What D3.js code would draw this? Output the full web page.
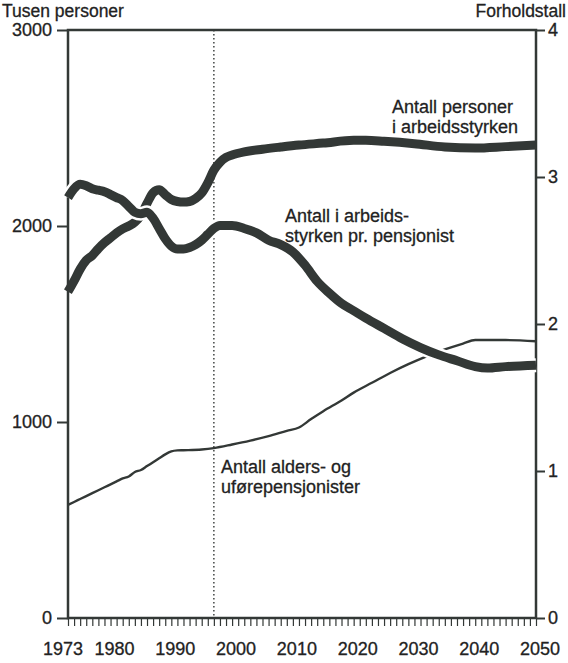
<!DOCTYPE html>
<html><head><meta charset="utf-8">
<script src="https://cdn.jsdelivr.net/npm/d3@7"></script>
<style>body{margin:0;background:#fff}svg text{font-family:"Liberation Sans",Arial,sans-serif;fill:#222;stroke:#222;stroke-width:0.3}</style>
</head><body><svg id="c" width="568" height="663"></svg>
<script>
// Antall personer i arbeidsstyrken (tusen)
const laborYears = [1973,1974,1975,1976,1977,1978,1979,1980,1981,1982,1983,1984,1985,1986,1987,1988,1989,1990,1991,1992,1993,1994,1995,1996,1997,1998,1999,2000,2002,2005,2008,2011,2015,2020,2022,2025,2030,2035,2040,2045,2050];
const laborValues = [1665,1720,1780,1825,1850,1885,1915,1940,1965,1985,2000,2020,2055,2115,2170,2185,2160,2135,2125,2122,2125,2140,2168,2220,2285,2325,2350,2362,2378,2392,2403,2413,2423,2437,2437,2432,2420,2403,2398,2405,2413];
// Antall i arbeidsstyrken pr. pensjonist (forholdstall)
const ratioYears = [1973,1974,1975,1976,1977,1978,1979,1980,1981,1982,1983,1984,1985,1986,1987,1988,1989,1990,1991,1992,1993,1994,1995,1996,1997,1998,2000,2002,2004,2006,2008,2010,2012,2014,2016,2018,2020,2022,2025,2028,2031,2034,2037,2040,2042,2045,2050];
const ratioValues = [2.86,2.92,2.95,2.94,2.92,2.91,2.90,2.88,2.86,2.84,2.80,2.76,2.75,2.76,2.72,2.65,2.58,2.53,2.51,2.51,2.52,2.54,2.57,2.61,2.65,2.67,2.67,2.65,2.62,2.57,2.54,2.49,2.40,2.29,2.21,2.14,2.09,2.04,1.97,1.90,1.84,1.79,1.75,1.71,1.70,1.71,1.72];
// Antall alders- og uførepensjonister (tusen)
const pensYears = [1973,1974,1975,1976,1977,1978,1979,1980,1981,1982,1983,1984,1985,1986,1987,1988,1989,1990,1991,1992,1995,1997,2000,2003,2006,2009,2011,2013,2015,2018,2020,2023,2026,2029,2032,2035,2038,2040,2045,2050];
const pensValues = [577,592,607,622,637,652,667,682,697,712,722,745,755,775,795,815,835,850,855,856,860,867,885,905,928,955,972,1015,1055,1110,1150,1200,1250,1295,1335,1370,1400,1418,1418,1412];
const xTickLabels = [1973,1980,1990,2000,2010,2020,2030,2040,2050];
const leftTicks = [0,1000,2000,3000];
const rightTicks = [0,1,2,3,4];
const markerYear = 1997;

const svg = d3.select("#c");
const L = 68, R = 536, T = 30, B = 618;
const x = d3.scaleLinear().domain([1973,2050]).range([L,R]);
const yL = d3.scaleLinear().domain([0,3000]).range([B,T]);
const yR = d3.scaleLinear().domain([0,4]).range([B,T]);
const ink = "#333836";
const fs = 18;

// x axis: tick every year
const xAxis = d3.axisBottom(x).tickValues(d3.range(1973,2051)).tickSize(8).tickFormat("");
const gx = svg.append("g").attr("transform",`translate(0,${B})`).call(xAxis);
gx.select(".domain").remove();
gx.selectAll("line").attr("stroke",ink).attr("stroke-width",1.2);
svg.selectAll(".xl").data(xTickLabels).join("text")
  .attr("x",d=> d===1973 ? x(d)-5 : x(d)+4).attr("y",655)
  .attr("text-anchor","middle").attr("font-size",fs).text(d=>d);

// left axis
const gl = svg.append("g").attr("transform",`translate(${L},0)`)
  .call(d3.axisLeft(yL).tickValues(leftTicks).tickSize(11).tickPadding(5).tickFormat(d3.format("d")));
gl.select(".domain").remove();
gl.selectAll("line").attr("stroke",ink).attr("stroke-width",2);
gl.selectAll("text").attr("font-size",fs).attr("dy","0.32em").attr("font-family",null).attr("fill",null);
// right axis
const gr = svg.append("g").attr("transform",`translate(${R},0)`)
  .call(d3.axisRight(yR).tickValues(rightTicks).tickSize(9).tickPadding(3).tickFormat(d3.format("d")));
gr.select(".domain").remove();
gr.selectAll("line").attr("stroke",ink).attr("stroke-width",2);
gr.selectAll("text").attr("font-size",fs).attr("dy","0.32em").attr("font-family",null).attr("fill",null);

// frame
svg.append("rect").attr("x",L).attr("y",T).attr("width",R-L).attr("height",B-T)
  .attr("fill","none").attr("stroke",ink).attr("stroke-width",2.5);

// dotted marker
svg.append("line").attr("x1",x(markerYear)).attr("x2",x(markerYear)).attr("y1",T).attr("y2",B)
  .attr("stroke",ink).attr("stroke-width",1.4).attr("stroke-dasharray","1.5,2.5");

const lineL = d3.line().x(d=>x(d[0])).y(d=>yL(d[1])).curve(d3.curveMonotoneX);
const lineR = d3.line().x(d=>x(d[0])).y(d=>yR(d[1])).curve(d3.curveMonotoneX);
const pens = pensYears.map((y,i)=>[y,pensValues[i]]);
const labor = laborYears.map((y,i)=>[y,laborValues[i]]);
const ratio = ratioYears.map((y,i)=>[y,ratioValues[i]]);

svg.append("path").attr("d",lineL(pens)).attr("fill","none").attr("stroke",ink).attr("stroke-width",2.4);
svg.append("path").attr("d",lineL(labor)).attr("fill","none").attr("stroke",ink).attr("stroke-width",9);
// ratio with white halo
svg.append("path").attr("d",lineR(ratio)).attr("fill","none").attr("stroke","#fff").attr("stroke-width",14);
svg.append("path").attr("d",lineR(ratio)).attr("fill","none").attr("stroke",ink).attr("stroke-width",9);

// titles
svg.append("text").attr("x",2).attr("y",17).attr("font-size",17.5).text("Tusen personer");
svg.append("text").attr("x",566).attr("y",17).attr("text-anchor","end").attr("font-size",17.5).text("Forholdstall");

// labels
const lab = (xx,yy,lines)=>{
  lines.forEach((t,i)=>svg.append("text").attr("x",xx).attr("y",yy+i*20).attr("font-size",fs).text(t));
};
lab(392,113,["Antall personer","i arbeidsstyrken"]);
lab(285,222,["Antall i arbeids-","styrken pr. pensjonist"]);
lab(221,473,["Antall alders- og","uførepensjonister"]);
</script></body></html>
